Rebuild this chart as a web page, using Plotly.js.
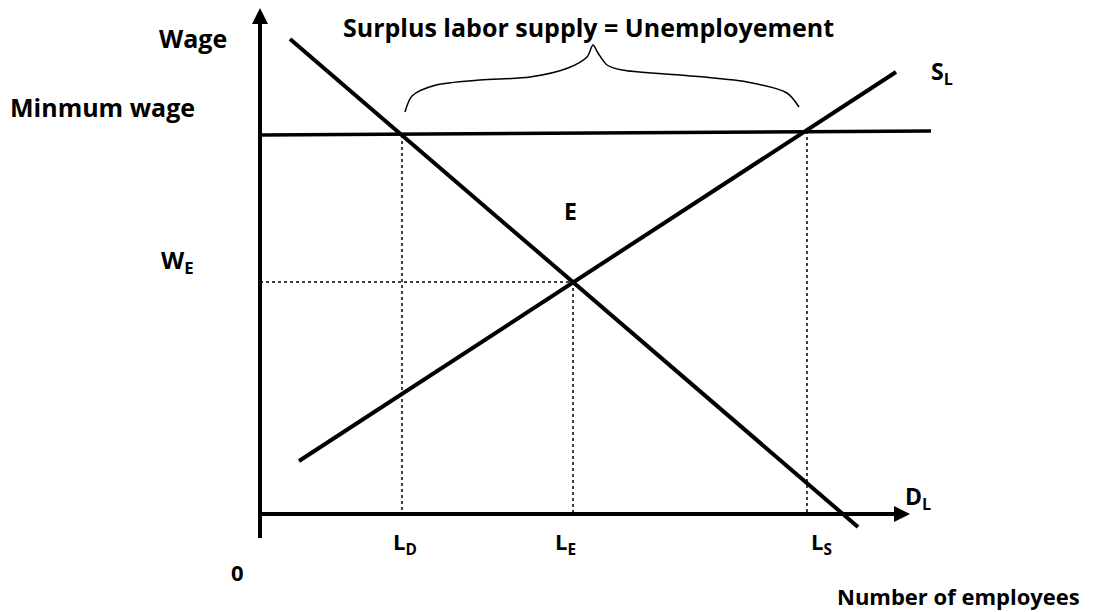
<!DOCTYPE html>
<html><head><meta charset="utf-8">
<script src="https://cdn.plot.ly/plotly-3.0.1.min.js"></script>
<style>body{margin:0;background:#fff}#chart{width:1110px;height:612px}</style>
</head><body><div id="chart"></div>
<script>
// Diagram data (units: origin at the axes' corner)
const yAxisX = [0, 0];
const yAxisY = [-24, 500];
const xAxisX = [-2, 646];
const xAxisY = [0, 0];
const arrowTipX = [0, 650];
const arrowTipY = [506, 0];
const minWageX = [0, 671];
const minWageY = [379, 383];
const demandX = [30, 598];
const demandY = [475, -13];
const supplyX = [39, 636];
const supplyY = [53, 442];
const ldX = [142, 142], ldY = [379, 0];
const leX = [313, 313], leY = [232, 0];
const lsX = [547, 547], lsY = [383, 0];
const weX = [0, 313], weY = [232, 232];
const braceX = [145, 152, 176, 220, 270, 308, 327, 333, 338, 347, 362, 420, 487, 527, 539];
const braceY = [402, 418, 429, 434, 437, 446, 457, 469, 461, 449, 444, 439, 432, 421, 407];
const labelTexts = ['Wage', 'Minmum wage', 'W<sub>E</sub>', 'E', 'S<sub>L</sub>', 'D<sub>L</sub>',
  'L<sub>D</sub>', 'L<sub>E</sub>', 'L<sub>S</sub>', '0', 'Number of employees', 'Surplus labor supply = Unemployement'];
const labelX = [-67, -158, -83, 310, 682, 658, 145, 305, 561, -23, 575, 328];
const labelY = [476, 407, 253, 303, 442, 17, -29, -29, -29, -58, -82, 487];
const labelSize = [25, 25, 24, 23, 23, 23, 22, 22, 22, 22, 22, 25];
const labelAnchor = ['center', 'center', 'center', 'center', 'center', 'center',
  'center', 'center', 'center', 'center', 'left', 'center'];

const thick = {color: '#000', width: 4};
const dotted = {color: '#000', width: 1.5, dash: 'dot'};
function seg(x, y, line) {
  return {x: x, y: y, mode: 'lines', line: line, hoverinfo: 'skip', showlegend: false};
}
const traces = [
  seg(ldX, ldY, dotted), seg(leX, leY, dotted), seg(lsX, lsY, dotted), seg(weX, weY, dotted),
  seg(yAxisX, yAxisY, {color: '#000', width: 4}),
  seg(xAxisX, xAxisY, {color: '#000', width: 4}),
  seg(minWageX, minWageY, {color: '#000', width: 3.5}),
  seg(demandX, demandY, thick),
  seg(supplyX, supplyY, thick),
  seg(braceX, braceY, {color: '#000', width: 1.5, shape: 'spline', smoothing: 0.8}),
  {x: arrowTipX, y: arrowTipY, mode: 'markers', hoverinfo: 'skip', showlegend: false,
   marker: {symbol: ['arrow-up', 'arrow-right'], size: 16, color: '#000', line: {width: 0}}}
];
const annotations = labelTexts.map((t, i) => ({
  x: labelX[i], y: labelY[i], xref: 'x', yref: 'y', text: t, showarrow: false,
  xanchor: labelAnchor[i], yanchor: 'middle',
  font: {family: '"Open Sans", Lato, sans-serif', size: labelSize[i], color: '#000', weight: 700}
}));
const layout = {
  width: 1110, height: 612,
  margin: {l: 0, r: 0, t: 0, b: 0},
  font: {family: '"Open Sans", Lato, sans-serif', size: 22, color: '#000'},
  paper_bgcolor: '#fff', plot_bgcolor: '#fff',
  xaxis: {range: [-260, 850], visible: false, fixedrange: true},
  yaxis: {range: [-98, 514], visible: false, fixedrange: true},
  annotations: annotations,
  showlegend: false
};
Plotly.newPlot('chart', traces, layout, {staticPlot: true});
</script></body></html>
